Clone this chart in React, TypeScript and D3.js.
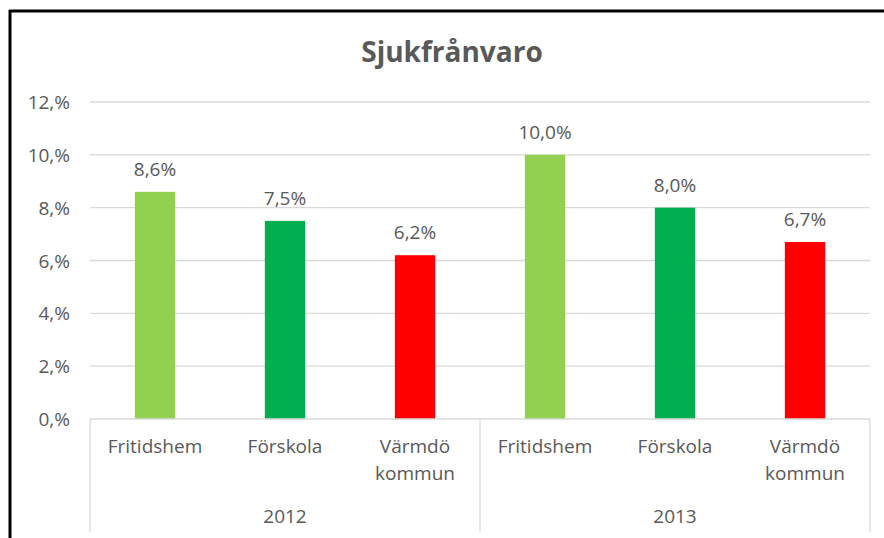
import React from "react";
import * as d3 from "d3";

const title = "Sjukfrånvaro";
const years = ["2012", "2013"];
const categories = ["Fritidshem", "Förskola", "Värmdö kommun"];
const values2012 = [8.6, 7.5, 6.2];
const values2013 = [10.0, 8.0, 6.7];
const colors = ["#92D050", "#00B050", "#FF0000"];
const yTicks = [0, 2, 4, 6, 8, 10, 12];

const W = 884;
const H = 538;
const left = 90;
const right = 870;
const top = 102;
const bottom = 419;
const FONT = "'Open Sans', sans-serif";
const TXT = "#595959";

const fmtTick = (v: number) => `${v},%`;
const fmtVal = (v: number) => `${v.toFixed(1).replace(".", ",")}%`;

export default function App() {
  const rows = [values2012, values2013].flatMap((vals, yi) =>
    vals.map((v, ci) => ({ key: `${yi}-${ci}`, year: years[yi], cat: categories[ci], ci, v }))
  );
  const x = d3.scaleBand<string>().domain(rows.map((r) => r.key)).range([left, right]).paddingInner(0.69).paddingOuter(0.345);
  const y = d3.scaleLinear().domain([0, 12]).range([bottom, top]);
  const yearX = d3.scaleBand<string>().domain(years).range([left, right]);

  return (
    <svg width={W} height={H} style={{ position: "absolute", left: 0, top: 0, background: "#fff" }}>
      <rect x={0} y={0} width={W} height={H} fill="#fff" />
      {/* frame */}
      <line x1={9} x2={W} y1={11} y2={11} stroke="#000" strokeWidth={3} />
      <line x1={10} x2={10} y1={10} y2={H} stroke="#000" strokeWidth={3} />
      <text x={452} y={62} textAnchor="middle" fontFamily={FONT} fontWeight="bold" fontSize={28} fill={TXT}>
        {title}
      </text>
      {yTicks.map((t) => (
        <g key={t}>
          {t > 0 && <line x1={left} x2={right} y1={y(t)} y2={y(t)} stroke="#D9D9D9" strokeWidth={1.3} />}
          <text x={70} y={y(t) + 7} textAnchor="end" fontFamily={FONT} fontSize={19} fill={TXT}>
            {fmtTick(t)}
          </text>
        </g>
      ))}
      {rows.map((r) => (
        <g key={r.key}>
          <rect x={x(r.key)} y={y(r.v)} width={x.bandwidth()} height={y(0) - y(r.v)} fill={colors[r.ci]} />
          <text
            x={(x(r.key) as number) + x.bandwidth() / 2}
            y={y(r.v) - 16}
            textAnchor="middle"
            fontFamily={FONT}
            fontSize={19}
            fill={TXT}
          >
            {fmtVal(r.v)}
          </text>
          {r.cat.split(" ").map((w, i) => (
            <text
              key={i}
              x={(x(r.key) as number) + x.bandwidth() / 2}
              y={453 + i * 27}
              textAnchor="middle"
              fontFamily={FONT}
              fontSize={19}
              fill={TXT}
            >
              {w}
            </text>
          ))}
        </g>
      ))}
      <line x1={left} x2={right} y1={bottom} y2={bottom} stroke="#D9D9D9" strokeWidth={1.3} />
      {[left, yearX("2013") as number, right].map((sx, i) => (
        <line key={i} x1={sx} x2={sx} y1={bottom} y2={532} stroke="#D9D9D9" strokeWidth={1.3} />
      ))}
      {years.map((yr) => (
        <text
          key={yr}
          x={(yearX(yr) as number) + yearX.bandwidth() / 2}
          y={523}
          textAnchor="middle"
          fontFamily={FONT}
          fontSize={19}
          fill={TXT}
        >
          {yr}
        </text>
      ))}
    </svg>
  );
}
